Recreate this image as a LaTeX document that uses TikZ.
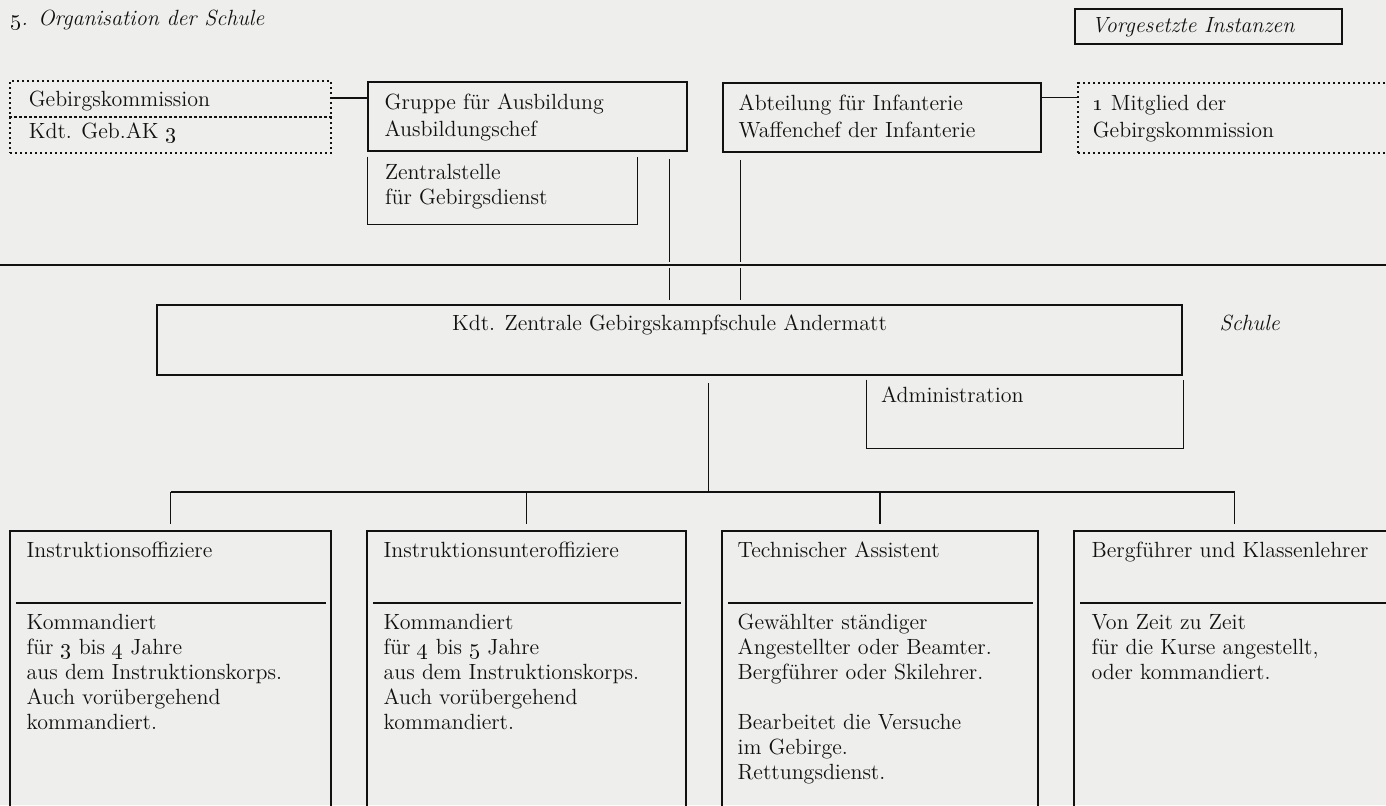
\documentclass[tikz,border=0pt]{standalone}
\usepackage{tikz}
\definecolor{paper}{HTML}{EEEEEC}
\definecolor{ink}{HTML}{111111}
\newcommand{\stack}[1]{\begin{tabular}[t]{@{}l@{}}#1\end{tabular}}

\begin{document}
\begin{tikzpicture}[x=0.5pt,y=-0.5pt,
        every node/.style={font=\fontsize{11}{12.5}\selectfont,text=ink},
        box/.style={draw=ink,rectangle,line width=0.8pt,inner sep=0pt},
        dotbox/.style={draw=ink,rectangle,line width=0.6pt,dash pattern=on 1.2pt off 1.3pt,inner sep=0pt},
        openbox/.style={rectangle,inner sep=0pt},
        txt/.style={anchor=base west,inner sep=0pt},
        toptxt/.style={txt,font=\fontsize{11}{13.5}\selectfont},
        ital/.style={txt,font=\fontsize{11}{13}\selectfont\itshape},
        conn/.style={draw=ink,line width=0.6pt},
        sepline/.style={draw=ink,line width=0.8pt},
        bus/.style={draw=ink,line width=0.9pt}]
        \useasboundingbox (0,0) rectangle (1386,805);
        \clip (0,0) rectangle (1386,805);
        \fill[paper] (0,0) rectangle (1386,805);

        % heading
        \path
        (10,25) node[ital](title) {\oldstylenums{5}. Organisation der Schule}
        (1208.5,26.5) node[box,minimum width=133.5pt,minimum height=17.5pt](vorg) {}
        ;
        \node[ital] (vorgtxt) at ([shift={(8.5pt,-12pt)}]vorg.north west) {Vorgesetzte Instanzen};

        % vorgesetzte Instanzen
        \path
        (170.5,117) node[dotbox,minimum width=160.5pt,minimum height=36pt](geb) {}
        (527.5,116.5) node[box,minimum width=159.5pt,minimum height=34.5pt](gruppe) {}
        (502.5,190.5) node[openbox,minimum width=134.5pt,minimum height=33.5pt](zentral) {}
        (882,117.5) node[box,minimum width=159pt,minimum height=34.5pt](abt) {}
        (1238.5,118) node[dotbox,minimum width=160.5pt,minimum height=35pt](mitglied) {}
        ;
        \draw[dotbox] (geb.west) -- (geb.east);
        \draw[box] (zentral.north west) -- (zentral.south west) -- (zentral.south east) -- (zentral.north east);

        \node[txt] (gebtxt) at ([shift={(9.5pt,-13pt)}]geb.north west) {Gebirgskommission};
        \node[txt] (aktxt) at ([shift={(9.5pt,-29pt)}]geb.north west) {Kdt. Geb.AK \oldstylenums{3}};
        \node[toptxt] (gruppetxt) at ([shift={(8.5pt,-14pt)}]gruppe.north west) {\stack{Gruppe für Ausbildung\\Ausbildungschef}};
        \node[txt] (zentraltxt) at ([shift={(8.5pt,-11.5pt)}]zentral.north west) {\stack{Zentralstelle\\für Gebirgsdienst}};
        \node[toptxt] (abttxt) at ([shift={(8pt,-14pt)}]abt.north west) {\stack{Abteilung für Infanterie\\Waffenchef der Infanterie}};
        \node[toptxt] (mitgliedtxt) at ([shift={(7.5pt,-14pt)}]mitglied.north west) {\stack{\oldstylenums{1} Mitglied der\\Gebirgskommission}};

        \draw[conn] ([yshift=9.5pt]geb.east) -- ([yshift=9.5pt]geb.east -| gruppe.west);
        \draw[conn] ([yshift=10pt]abt.east) -- ([yshift=10pt]abt.east -| mitglied.west);

        % Trennlinie
        \coordinate (sepW) at (0,265);
        \coordinate (sepE) at (1386,265);
        \draw[sepline] (sepW) -- (sepE);

        % Schule
        \path
        (669.5,340) node[box,line width=1.3pt,minimum width=512.5pt,minimum height=35pt](kdt) {}
        (1025,414) node[openbox,minimum width=158pt,minimum height=34pt](admin) {}
        ;
        \draw[box] (admin.north west) -- (admin.south west) -- (admin.south east) -- (admin.north east);
        \node[anchor=base,inner sep=0pt] (kdttxt) at ([yshift=-13.5pt]kdt.north) {Kdt. Zentrale Gebirgskampfschule Andermatt};
        \node[ital] (schule) at ([shift={(18pt,-13.5pt)}]kdt.north east) {Schule};
        \node[txt] (admintxt) at ([shift={(7pt,-11.5pt)}]admin.north west) {Administration};

        \coordinate (abtfoot) at ([xshift=9pt]abt.south west);
        \draw[conn,shorten <=3.5pt,shorten >=1.5pt] (gruppe.south -| kdt.north) -- (sepW -| kdt.north);
        \draw[conn,shorten <=1.5pt,shorten >=2pt] (sepW -| kdt.north) -- (kdt.north);
        \draw[conn,shorten <=3.5pt,shorten >=1.5pt] (abtfoot) -- (abtfoot |- sepW);
        \draw[conn,shorten <=1.5pt,shorten >=2pt] (abtfoot |- sepW) -- (abtfoot |- kdt.north);

        % Lehrpersonal
        \path
        (170.5,673) node[box,minimum width=160.5pt,minimum height=142pt](offz) {}
        (526.5,673) node[box,minimum width=159.5pt,minimum height=142pt](uof) {}
        (880,673) node[box,minimum width=158pt,minimum height=142pt](techn) {}
        (1234.5,673) node[box,minimum width=160.5pt,minimum height=142pt](bergf) {}
        ;
        \foreach \b in {offz,uof,techn,bergf}
          \draw[sepline] ([shift={(3.5pt,-36.5pt)}]\b.north west) -- ([shift={(-3pt,-36.5pt)}]\b.north east);

        \coordinate (kdtfoot) at ([xshift=19.5pt]kdt.south);
        \coordinate (hub) at ([yshift=-58pt]kdtfoot);
        \draw[conn,shorten <=3.5pt] (kdtfoot) -- (hub);
        \draw[bus] (hub -| offz.north) -- (hub -| bergf.north);
        \foreach \b in {offz,uof,techn,bergf}
          \draw[bus,shorten >=3pt] (hub -| \b.north) -- (\b.north);

        \node[txt] (offzhead) at ([shift={(8.5pt,-13.5pt)}]offz.north west) {Instruktionsoffiziere};
        \node[txt] (offzbody) at ([shift={(8.5pt,-49.5pt)}]offz.north west) {\stack{Kommandiert\\für \oldstylenums{3} bis \oldstylenums{4} Jahre\\aus dem Instruktionskorps.\\Auch vorübergehend\\kommandiert.}};
        \node[txt] (uofhead) at ([shift={(8.5pt,-13.5pt)}]uof.north west) {Instruktionsunteroffiziere};
        \node[txt] (uofbody) at ([shift={(8.5pt,-49.5pt)}]uof.north west) {\stack{Kommandiert\\für \oldstylenums{4} bis \oldstylenums{5} Jahre\\aus dem Instruktionskorps.\\Auch vorübergehend\\kommandiert.}};
        \node[txt] (technhead) at ([shift={(8pt,-13.5pt)}]techn.north west) {Technischer Assistent};
        \node[txt] (technbody) at ([shift={(8pt,-49.5pt)}]techn.north west) {\stack{Gewählter ständiger\\Angestellter oder Beamter.\\Bergführer oder Skilehrer.\\[12.5pt]Bearbeitet die Versuche\\im Gebirge.\\Rettungsdienst.}};
        \node[txt] (bergfhead) at ([shift={(9pt,-13.5pt)}]bergf.north west) {Bergführer und Klassenlehrer};
        \node[txt] (bergfbody) at ([shift={(9pt,-49.5pt)}]bergf.north west) {\stack{Von Zeit zu Zeit\\für die Kurse angestellt,\\oder kommandiert.}};
      \end{tikzpicture}
\end{document}
